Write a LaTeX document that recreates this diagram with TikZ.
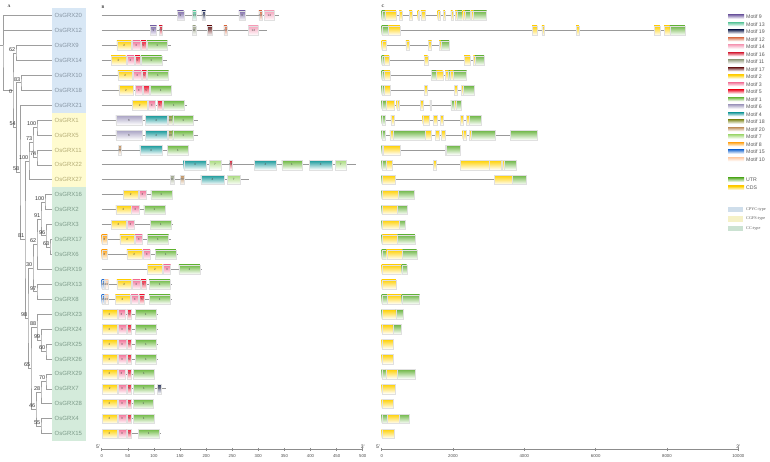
\documentclass[tikz,border=0pt]{standalone}
\usepackage{fontspec}
\setmainfont{Liberation Sans}
\newfontfamily\typefont{Liberation Serif}
\usetikzlibrary{positioning}

% motif colours
\definecolor{m1}{HTML}{6CB83F}
\definecolor{m2}{HTML}{FFD100}
\definecolor{m3}{HTML}{F27399}
\definecolor{m4}{HTML}{17999A}
\definecolor{m5}{HTML}{EE1D36}
\definecolor{m6}{HTML}{A9A3C4}
\definecolor{m7}{HTML}{A9DB7E}
\definecolor{m8}{HTML}{FFA31A}
\definecolor{m9}{HTML}{7E6BAA}
\definecolor{m10}{HTML}{FFCBA4}
\definecolor{m11}{HTML}{9DA58A}
\definecolor{m12}{HTML}{D9704A}
\definecolor{m13}{HTML}{5CC59B}
\definecolor{m14}{HTML}{F6A3BC}
\definecolor{m15}{HTML}{3278D6}
\definecolor{m16}{HTML}{D6243A}
\definecolor{m17}{HTML}{6B1C1C}
\definecolor{m18}{HTML}{8D9435}
\definecolor{m19}{HTML}{2B3560}
\definecolor{m20}{HTML}{C1915F}
% gene parts and groups
\definecolor{utr}{HTML}{6DB644}
\definecolor{cds}{HTML}{FFD000}
\definecolor{cpyc}{HTML}{D8E7F5}
\definecolor{cgfs}{HTML}{FFFBCF}
\definecolor{cc}{HTML}{D4EBDB}
\definecolor{cpyctext}{HTML}{8796A4}
\definecolor{cgfstext}{HTML}{B4AC74}
\definecolor{cctext}{HTML}{7E9C8A}

% y of a row
\newcommand{\ry}[1]{15.6+14.93*(#1)}
% row, start, end, motif
\newcommand{\motifbox}[4]{%
  \path[mbox=m#4] (#2,{\ry{#1}-4.6}) rectangle (#3,{\ry{#1}+4.8});
  \node[mlab] (mot#1x#2) at ({(#2+#3)/2},{\ry{#1}}) {#4};}
\newcommand{\motifrow}[3]{%
  \draw[backbone] (0,{\ry{#1}}) -- (#2,{\ry{#1}});
  \foreach \s/\e/\m in {#3} {\motifbox{#1}{\s}{\e}{\m}}}
\newcommand{\generow}[3]{%
  \draw[backbone] (0,{\ry{#1}}) -- (#2,{\ry{#1}});
  \foreach \s/\e/\kind in {#3} {\path[mbox=\kind] (\s,{\ry{#1}-4.6}) rectangle (\e,{\ry{#1}+4.8});}}

\begin{document}
\begin{tikzpicture}[x=1pt,y=-1pt,
  every node/.style={font=\fontsize{6}{7}\selectfont,inner sep=0pt},
  branch/.style={draw=black!38,line width=0.7pt},
  boot/.style={font=\fontsize{5.5}{6}\selectfont,anchor=south east,text=black!80,xshift=-0.5pt,yshift=1.5pt},
  gene/.style={anchor=west,inner xsep=2.5pt},
  backbone/.style={draw=black!40,line width=0.8pt},
  mbox/.style={draw=black!12,line width=0.3pt,top color=#1,bottom color=white},
  mlab/.style={font=\fontsize{3}{3}\selectfont,text=black!70},
  axis/.style={draw=black!45,line width=0.6pt},
  tick/.style={font=\fontsize{4.3}{5}\selectfont,text=black!70},
  endlab/.style={font=\fontsize{5}{6}\selectfont,text=black!80},
  legtext/.style={font=\fontsize{5.2}{6}\selectfont,text=black!65,anchor=west},
  panel/.style={font=\typefont\bfseries\fontsize{4}{4}\selectfont,text=black!80}]
\useasboundingbox (0,0) rectangle (770,462);

% panel letters
\node[panel] (pa) at (9,6) {A};
\node[panel] (pb) at (103,7) {B};
\node[panel] (pc) at (383,6) {C};

% group backgrounds
\fill[cpyc] (52,{\ry{-0.5}}) rectangle (86,{\ry{6.5}});
\fill[cgfs] (52,{\ry{6.5}}) rectangle (86,{\ry{11.5}});
\fill[cc] (52,{\ry{11.5}}) rectangle (86,{\ry{28.5}});

% gene names
\foreach \g [count=\i from 0] in {20,12,9,14,10,18,21}
  \node[gene,text=cpyctext] (g\g) at (52,{\ry{\i}}) {OsGRX\g};
\foreach \g [count=\i from 7] in {1,5,11,22,27}
  \node[gene,text=cgfstext] (g\g) at (52,{\ry{\i}}) {OsGRX\g};
\foreach \g [count=\i from 12] in {16,2,3,17,6,19,13,8,23,24,25,26,29,7,28,4,15}
  \node[gene,text=cctext] (g\g) at (52,{\ry{\i}}) {OsGRX\g};

% tree
\coordinate (root) at (3,{\ry{2}});
\coordinate (rootstub) at (0,{\ry{2}});
\coordinate (n0) at (13,{\ry{5}});
\coordinate (n62) at (16,{\ry{2.5}});
\coordinate (n54) at (16.5,{\ry{7.502}});
\coordinate (n83) at (21,{\ry{4.5}});
\coordinate (n58) at (20,{\ry{10.504}});
\coordinate (n81) at (25,{\ry{15.008}});
\coordinate (nd) at (29,{\ry{9.75}});
\coordinate (nc) at (33,{\ry{8.5}});
\coordinate (na) at (37,{\ry{7.5}});
\coordinate (nb) at (37,{\ry{9.5}});
\coordinate (nP) at (28,{\ry{20.266}});
\coordinate (nG) at (33,{\ry{16.906}});
\coordinate (nE) at (37,{\ry{15.3125}});
\coordinate (nD) at (41,{\ry{13.625}});
\coordinate (nA) at (45,{\ry{12.5}});
\coordinate (nC) at (46,{\ry{14.75}});
\coordinate (nB) at (50,{\ry{15.5}});
\coordinate (nF) at (37,{\ry{18.5}});
\coordinate (nO) at (31,{\ry{23.625}});
\coordinate (nJ) at (37,{\ry{20.875}});
\coordinate (nI) at (41,{\ry{21.75}});
\coordinate (nH) at (46,{\ry{22.5}});
\coordinate (nN) at (36,{\ry{26.375}});
\coordinate (nL) at (41,{\ry{25.25}});
\coordinate (nK) at (46,{\ry{24.5}});
\coordinate (nM) at (41,{\ry{27.5}});

\draw[branch] (rootstub) -- (root);
\draw[branch] (g20.west) -| (root) |- (n0);
\draw[branch] (g12.west) -| (root);
\draw[branch] (n62) -| (n0) |- (n54);
\draw[branch] (g9.west) -| (n62) |- (g14.west);
\draw[branch] (n83) -| (n54) |- (n58);
\draw[branch] (g10.west) -| (n83) |- (g18.west);
\draw[branch] (g21.west) -| (n58) |- (n81);
\draw[branch] (nd) -| (n81) |- (nP);
\draw[branch] (nc) -| (nd) |- (g27.west);
\draw[branch] (na) -| (nc) |- (nb);
\draw[branch] (g1.west) -| (na) |- (g5.west);
\draw[branch] (g11.west) -| (nb) |- (g22.west);
\draw[branch] (nG) -| (nP) |- (nO);
\draw[branch] (nE) -| (nG) |- (nF);
\draw[branch] (nD) -| (nE) |- (g19.west);
\draw[branch] (nA) -| (nD) |- (nC);
\draw[branch] (g16.west) -| (nA) |- (g2.west);
\draw[branch] (g3.west) -| (nC) |- (nB);
\draw[branch] (g17.west) -| (nB) |- (g6.west);
\draw[branch] (g13.west) -| (nF) |- (g8.west);
\draw[branch] (nJ) -| (nO) |- (nN);
\draw[branch] (g23.west) -| (nJ) |- (nI);
\draw[branch] (g24.west) -| (nI) |- (nH);
\draw[branch] (g25.west) -| (nH) |- (g26.west);
\draw[branch] (nL) -| (nN) |- (nM);
\draw[branch] (nK) -| (nL) |- (g28.west);
\draw[branch] (g29.west) -| (nK) |- (g7.west);
\draw[branch] (g4.west) -| (nM) |- (g15.west);

% bootstrap values
\foreach \n/\v in {n62/62,n83/83,n54/54,n58/58,n81/81,nd/100,nc/73,na/100,nb/74,
  nP/98,nG/30,nE/62,nD/91,nA/100,nC/96,nB/63,nF/97,nO/65,nJ/88,nI/99,nH/60,
  nN/46,nL/28,nK/70,nM/55}
  \node[boot] (b\n) at (\n) {\v};
\node[boot,anchor=north east,yshift=-0.5pt] (bn0) at (n0) {0};

% B: motifs (aa)
\begin{scope}[shift={(101.7,0)},x=0.522pt]
\motifrow{0}{340}{145/157/9,174/181/13,192/199/19,263/275/9,301/307/12,311/331/14}
\motifrow{1}{316}{93/105/9,110/116/16,174/180/11,202/211/17,234/240/12,281/300/14}
\motifrow{2}{132}{29/57/2,59/73/3,75/85/5,87/126/1}
\motifrow{3}{126}{18/46/2,48/62/3,64/73/5,75/115/1}
\motifrow{4}{129}{31/59/2,61/75/3,77/86/5,88/128/1}
\motifrow{5}{134}{33/60/2,64/78/3,80/91/5,93/133/1}
\motifrow{6}{163}{59/87/2,89/103/3,106/116/5,118/158/1}
\motifrow{7}{184}{27/77/6,83/126/4,128/135/18,136/176/1}
\motifrow{8}{184}{27/77/6,83/126/4,128/135/18,136/176/1}
\motifrow{9}{166}{32/37/20,73/116/4,126/166/1}
\motifrow{10}{488}{157/200/4,206/228/7,244/250/16,292/335/4,345/384/1,398/441/4,447/469/7}
\motifrow{11}{283}{132/138/11,151/157/20,190/234/4,241/265/7}
\motifrow{12}{136}{41/70/2,71/85/3,94/134/1}
\motifrow{13}{124}{27/56/2,57/71/3,81/121/1}
\motifrow{14}{136}{18/46/2,48/62/3,93/133/1}
\motifrow{15}{133}{0/11/8,35/63/2,64/78/3,88/128/1}
\motifrow{16}{147}{0/11/8,48/77/2,79/93/3,103/142/1}
\motifrow{17}{192}{88/116/2,118/132/3,148/188/1}
\motifrow{18}{134}{0/5/15,6/13/10,29/57/2,59/73/3,75/85/5,91/131/1}
\motifrow{19}{134}{0/5/15,6/13/10,26/54/2,56/70/3,72/82/5,91/131/1}
\motifrow{20}{107}{1/29/2,31/45/3,48/57/5,64/105/1}
\motifrow{21}{107}{1/29/2,32/46/3,48/57/5,65/105/1}
\motifrow{22}{107}{1/29/2,32/46/3,48/57/5,65/105/1}
\motifrow{23}{107}{1/29/2,32/46/3,48/57/5,65/105/1}
\motifrow{24}{103}{1/29/2,31/45/3,48/57/5,61/101/1}
\motifrow{25}{124}{1/30/2,32/46/3,48/57/5,61/101/1,107/113/19}
\motifrow{26}{101}{1/29/2,32/46/3,48/57/5,61/99/1}
\motifrow{27}{103}{1/29/2,32/46/3,48/57/5,61/100/1}
\motifrow{28}{114}{1/29/2,32/46/3,48/57/5,70/110/1}
% axis
\coordinate (bax0) at (0,449);
\coordinate (bax1) at (500,449);
\draw[axis] (bax0) -- (bax1);
\foreach \t in {0,50,...,500} {
  \draw[axis] (\t,447.8) -- (\t,450.6);
  \node[tick] (bt\t) at (\t,456) {\t};
}
\node[endlab,anchor=south east,xshift=-1.5pt] (b5) at (bax0) {5'};
\node[endlab,anchor=south,yshift=0.6pt] (b3) at (bax1) {3'};
\end{scope}

% C: gene structure (kb)
\begin{scope}[shift={(381.7,0)},x=35.66pt]
\generow{0}{2.94}{0/0.09/utr,0.09/0.40/cds,0.49/0.56/cds,0.77/0.85/cds,1.01/1.05/cds,1.10/1.23/cds,1.57/1.63/cds,1.73/1.77/cds,1.94/1.99/cds,2.06/2.12/cds,2.12/2.25/utr,2.27/2.34/cds,2.34/2.48/utr,2.50/2.56/cds,2.57/2.94/utr}
\generow{1}{8.50}{0/0.19/utr,0.19/0.51/cds,4.22/4.36/cds,4.49/4.56/cds,5.45/5.53/cds,7.64/7.80/cds,7.92/8.08/cds,8.08/8.50/utr}
\generow{2}{1.89}{0/0.13/cds,0.68/0.77/cds,1.31/1.40/cds,1.61/1.66/cds,1.66/1.89/utr}
\generow{3}{2.87}{0/0.07/utr,0.07/0.21/cds,1.19/1.29/cds,2.31/2.48/cds,2.57/2.62/cds,2.62/2.87/utr}
\generow{4}{2.38}{0/0.07/utr,0.07/0.23/cds,1.40/1.54/utr,1.54/1.71/cds,1.78/1.87/cds,1.87/1.91/utr,1.92/2.01/cds,2.01/2.38/utr}
\generow{5}{2.60}{0/0.07/utr,0.07/0.25/cds,1.19/1.28/cds,2.04/2.12/cds,2.24/2.29/cds,2.29/2.60/utr}
\generow{6}{2.23}{0/0.12/utr,0.12/0.34/cds,0.42/0.49/cds,1.09/1.17/cds,1.35/1.39/cds,1.94/2.03/utr,2.03/2.08/cds,2.08/2.23/utr}
\generow{7}{2.78}{0/0.09/utr,0.26/0.34/cds,1.15/1.32/cds,1.45/1.56/cds,1.65/1.71/cds,2.20/2.27/cds,2.38/2.46/cds,2.46/2.78/utr}
\generow{8}{4.37}{0/0.09/utr,0.23/0.31/cds,0.31/1.22/utr,1.22/1.38/cds,1.51/1.61/cds,1.68/1.77/cds,2.27/2.36/cds,2.45/2.52/cds,2.52/3.19/utr,3.60/4.37/utr}
\generow{9}{2.19}{0/0.04/utr,0.04/0.51/cds,1.78/1.82/cds,1.82/2.19/utr}
\generow{10}{3.76}{0/0.12/utr,0.12/0.30/cds,1.45/1.54/cds,2.20/3.02/cds,3.02/3.35/cds,3.37/3.44/cds,3.44/3.76/utr}
\generow{11}{4.04}{0/0.02/utr,0.02/0.38/cds,3.16/3.67/cds,3.67/4.04/utr}
\generow{12}{0.91}{0/0.02/utr,0.02/0.47/cds,0.47/0.91/utr}
\generow{13}{0.72}{0/0.02/utr,0.02/0.44/cds,0.44/0.72/utr}
\generow{14}{0.67}{0/0.02/utr,0.02/0.49/cds,0.49/0.67/utr}
\generow{15}{0.93}{0/0.02/utr,0.02/0.44/cds,0.44/0.93/utr}
\generow{16}{0.98}{0/0.14/utr,0.14/0.58/cds,0.58/0.98/utr}
\generow{17}{0.70}{0/0.56/cds,0.56/0.70/utr}
\generow{18}{0.40}{0/0.40/cds}
\generow{19}{1.06}{0/0.16/utr,0.16/0.56/cds,0.56/1.06/utr}
\generow{20}{0.60}{0/0.02/utr,0.02/0.40/cds,0.40/0.60/utr}
\generow{21}{0.54}{0/0.31/cds,0.31/0.54/utr}
\generow{22}{0.33}{0/0.33/cds}
\generow{23}{0.33}{0/0.33/cds}
\generow{24}{0.95}{0/0.12/utr,0.12/0.44/cds,0.44/0.95/utr}
\generow{25}{0.37}{0/0.37/cds}
\generow{26}{0.31}{0/0.31/cds}
\generow{27}{0.77}{0/0.16/utr,0.16/0.49/cds,0.49/0.77/utr}
\generow{28}{0.34}{0/0.34/cds}
% axis
\coordinate (cax0) at (0,449);
\coordinate (cax1) at (10,449);
\draw[axis] (cax0) -- (cax1);
\foreach \t in {0,2,...,10} {
  \draw[axis] (\t,447.8) -- (\t,450.6);
  \pgfmathtruncatemacro{\bp}{\t*1000}
  \node[tick] (ct\t) at (\t,456) {\bp};
}
\node[endlab,anchor=south east,xshift=-1.5pt] (c5) at (cax0) {5'};
\node[endlab,anchor=south,yshift=0.6pt] (c3) at (cax1) {3'};
\end{scope}

% legend
\foreach \m [count=\k from 0] in {9,13,19,12,14,16,11,17,2,3,5,1,6,4,18,20,7,8,15,10} {
  \path[mbox=m\m,draw=none] (728,{16.7+7.5*\k-2}) rectangle (744,{16.7+7.5*\k+2});
  \node[legtext] (lm\m) at (746,{16.7+7.5*\k}) {Motif \m};
}
\path[mbox=utr,draw=none] (728,178) rectangle (744,182);
\node[legtext] (lutr) at (746,180) {UTR};
\path[mbox=cds,draw=none] (728,186) rectangle (744,190);
\node[legtext] (lcds) at (746,188) {CDS};
\foreach \c/\y/\t in {cpyc/209.5/CPYC-type,cgfs/219/CGFS-type,cc/228.5/CC-type} {
  \fill[\c!80!black!20!\c] (728,{\y-2.6}) rectangle (743,{\y+2.6});
  \node[legtext,font=\typefont\fontsize{4.2}{5}\selectfont] (l\c) at (746,\y) {\t};
}
\end{tikzpicture}
\end{document}
